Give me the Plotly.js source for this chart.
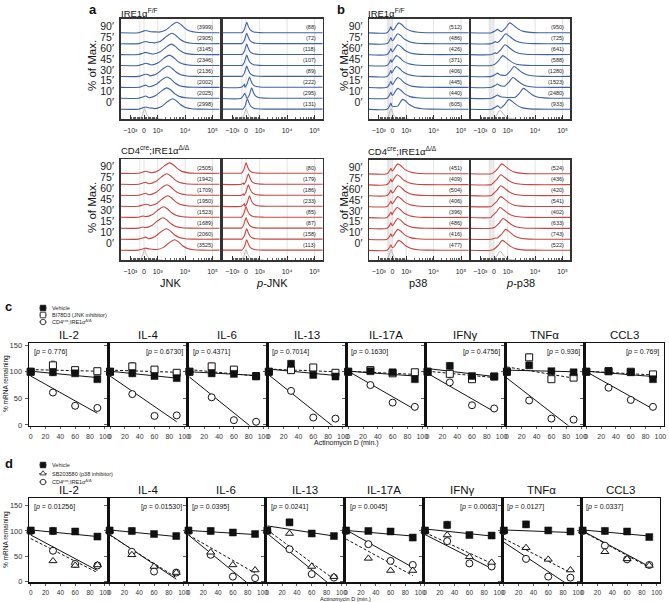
<!DOCTYPE html>
<html>
<head>
<meta charset="utf-8">
<script src="https://cdn.plot.ly/plotly-3.0.1.min.js"></script>
<style>body{margin:0;background:#fff}#chart{width:669px;height:602px}</style>
</head>
<body>
<div id="chart"></div>
<script>
const W = 669, H = 602;
const FONT = 'Liberation Sans, Arial, sans-serif';
const blue = '#3f62a3', red = '#c8463f', grey = '#b4b4b4';

// ---------- a / b : flow histograms (rows listed bottom to top: 0', 10', ... 90') ----------
const timeLabels = ['0′', '10′', '15′', '30′', '45′', '60′', '75′', '90′'];
// peak positions on the biexponential display scale (0 -> 0, 1 -> 10^3, 3 -> 10^4, 5 -> 10^5)
const jnkFFPeak = [2.08, 1.66, 1.66, 1.74, 1.84, 1.99, 2.03, 2.39];
const jnkKOPeak = [2.22, 1.62, 1.37, 1.42, 1.72, 1.66, 1.66, 1.86];
const pjnkFFPeak = [0.11, 0.42, 0.26, 0.06, 0.06, 0.06, 0.06, 0.06];
const pjnkKOPeak = [0.06, 0.06, 0.01, 0.01, 0.26, 0.18, 0.18, 0.01];
const p38FFPeak = [0.75, 0.39, 0.39, 0.29, 0.29, 0.39, 0.39, 0.46];
const p38KOPeak = [0.46, 0.39, 0.39, 0.34, 0.39, 0.42, 0.34, 0.39];
const pp38FFPeak = [1.09, 2.15, 1.37, 1.46, 0.64, 0.80, 0.85, 1.15];
const pp38KOPeak = [0.61, 0.85, 0.66, 0.44, 0.49, 0.49, 0.49, 0.56];
// height of the small population near zero
const jnkFFBump = [0.2, 0.2, 0.2, 0.2, 0.2, 0.2, 0.2, 0.2];
const jnkKOBump = [0.18, 0.18, 0.18, 0.18, 0.18, 0.18, 0.18, 0.18];
const pjnkFFBump = [0, 0.45, 0.3, 0, 0, 0, 0, 0];
const pjnkKOBump = [0, 0, 0, 0, 0.25, 0.2, 0.2, 0];
const p38FFBump = [0.55, 0.55, 0.55, 0.55, 0.55, 0.55, 0.55, 0.55];
const p38KOBump = [0.5, 0.5, 0.5, 0.5, 0.5, 0.5, 0.5, 0.5];
const pp38FFBump = [0.3, 0.3, 0.3, 0.3, 0.3, 0.25, 0.3, 0.3];
const pp38KOBump = [0.1, 0.2, 0.12, 0.1, 0.1, 0.1, 0.1, 0.1];
// median fluorescence values printed in each row
const jnkFFCount = [2998, 2025, 2002, 2136, 2346, 3145, 2905, 3999];
const pjnkFFCount = [131, 295, 222, 89, 107, 118, 72, 88];
const jnkKOCount = [3525, 2060, 1689, 1523, 1950, 1709, 1942, 2505];
const pjnkKOCount = [113, 158, 87, 85, 233, 186, 179, 80];
const p38FFCount = [605, 440, 445, 406, 371, 426, 486, 512];
const pp38FFCount = [933, 2480, 1523, 1280, 588, 641, 725, 950];
const p38KOCount = [477, 416, 486, 396, 406, 504, 409, 451];
const pp38KOCount = [522, 743, 633, 402, 541, 420, 436, 524];
// peak profiles [offset, height]
const spikeShape = [[-0.35,0],[-0.18,0.3],[-0.07,0.75],[0,0.95],[0.1,0.6],[0.25,0.25],[0.5,0.07],[0.9,0.01],[1.3,0]];
const jnkShape = [[-1.3,0.05],[-0.8,0.25],[-0.4,0.65],[0,0.95],[0.3,0.75],[0.6,0.4],[0.95,0.15],[1.4,0.04],[2.0,0]];
const p38Shape = [[-0.35,0.3],[-0.15,0.7],[0,0.9],[0.2,0.75],[0.5,0.4],[0.9,0.15],[1.4,0.04],[2.0,0]];
const pp38Shape = [[-0.6,0.1],[-0.3,0.45],[0,0.9],[0.3,0.65],[0.6,0.35],[1.0,0.12],[1.5,0.03],[2.1,0]];
const ctrlBroad = [[-0.5,0],[-0.25,0.35],[0,0.8],[0.25,0.45],[0.5,0.15],[0.8,0.03],[1.1,0]];
const jnkBump = [[-0.4,0],[-0.1,0.6],[0.12,1],[0.4,0.55],[0.7,0.4],[1.0,0.35]];
const pjnkBump = [[-0.35,0],[-0.18,0.6],[-0.1,1],[-0.02,0.6]];
const p38Bump = [[-0.4,0],[-0.22,0.5],[-0.12,1],[-0.03,0.5]];
const pp38Bump = [[-0.2,0],[0.1,0.6],[0.25,1],[0.4,0.6],[0.55,0.4]];

const histBoxes = [
  {x:[120.5,219.5], y:[18.5,119], peak:jnkFFPeak, bumpH:jnkFFBump, shape:jnkShape, bump:jnkBump, color:blue, count:jnkFFCount, ctrl:0.04, ctrlShape:spikeShape, labels:true},
  {x:[222.5,322.5], y:[18.5,119], peak:pjnkFFPeak, bumpH:pjnkFFBump, shape:spikeShape, bump:pjnkBump, color:blue, count:pjnkFFCount, ctrl:0.01, ctrlShape:spikeShape},
  {x:[120.5,219.5], y:[159,260], peak:jnkKOPeak, bumpH:jnkKOBump, shape:jnkShape, bump:jnkBump, color:red, count:jnkKOCount, ctrl:0.04, ctrlShape:spikeShape, labels:true},
  {x:[222.5,322.5], y:[159,260], peak:pjnkKOPeak, bumpH:pjnkKOBump, shape:spikeShape, bump:pjnkBump, color:red, count:pjnkKOCount, ctrl:0.01, ctrlShape:spikeShape},
  {x:[369,468.5], y:[18.5,119], peak:p38FFPeak, bumpH:p38FFBump, shape:p38Shape, bump:p38Bump, color:blue, count:p38FFCount, ctrl:-0.1, ctrlShape:spikeShape, labels:true, band:true},
  {x:[470.5,570], y:[18.5,119], peak:pp38FFPeak, bumpH:pp38FFBump, shape:pp38Shape, bump:pp38Bump, color:blue, count:pp38FFCount, ctrl:0.44, ctrlShape:ctrlBroad, band:true},
  {x:[369,468.5], y:[159.5,260], peak:p38KOPeak, bumpH:p38KOBump, shape:p38Shape, bump:p38Bump, color:red, count:p38KOCount, ctrl:-0.1, ctrlShape:spikeShape, labels:true, band:true},
  {x:[470.5,570], y:[159.5,260], peak:pp38KOPeak, bumpH:pp38KOBump, shape:pp38Shape, bump:pp38Bump, color:red, count:pp38KOCount, ctrl:0.44, ctrlShape:ctrlBroad, band:true},
];

// ---------- c / d : mRNA decay ----------
const genes = ['IL-2', 'IL-4', 'IL-6', 'IL-13', 'IL-17A', 'IFNγ', 'TNFα', 'CCL3'];
const times = [0, 30, 60, 90];
const fitX = [0, 90];

const cVehicle = [[100,99,97,86],[100,97,92,88],[100,97,96,91],[100,115,94,91],[100,101,99,86],[100,111,92,91],[100,112,101,99],[100,101,99,86]];
const cVehicleErr = [[2,6,4,3],[2,5,4,3],[2,5,3,3],[2,6,4,3],[2,5,4,3],[2,6,3,3],[2,5,3,3],[2,5,4,3]];
const cInhib = [[100,112,103,101],[100,110,104,98],[100,110,104,92],[100,103,108,98],[100,103,97,99],[100,96,86,91],[100,127,86,89],[100,101,100,95]];
const cInhibErr = [[2,8,5,3],[2,7,4,3],[2,6,4,3],[2,5,5,3],[2,4,3,3],[2,5,4,3],[2,6,4,3],[2,4,3,3]];
const cKO = [[100,61,36,32],[100,58,17,18],[100,52,9,6],[100,64,14,12],[100,75,42,34],[100,80,37,31],[100,46,12,10],[100,70,47,34]];
const cFitVehicle = [[101,89],[101,88],[100,93],[105,93],[101,92],[106,91],[103,100],[101,91]];
const cFitInhib = [[104,101],[103,99],[104,92],[105,100],[101,95],[101,89],[109,88],[101,94]];
const cFitKO = [[92,22],[92,6],[90,-11],[94,-6],[101,29],[97,25],[88,-9],[100,30]];
const cP = ['0.776','0.6730','0.4371','0.7014','0.1630','0.4756','0.936','0.769'];
const cPSide = ['l','r','l','l','l','r','r','r'];

const dVehicle = [[101,100,99,89],[101,100,94,90],[101,100,97,94],[101,117,95,90],[101,100,99,87],[101,112,92,91],[101,113,101,99],[101,100,99,88]];
const dVehicleErr = [[3,7,4,3],[3,6,4,3],[3,6,4,3],[3,6,4,3],[3,5,4,3],[3,7,4,3],[3,6,3,3],[3,6,4,3]];
const dInhib = [[100,41,32,33],[100,53,30,18],[100,58,33,23],[100,95,30,10],[100,46,22,22],[100,92,49,38],[100,67,44,23],[100,59,45,32]];
const dKO = [[100,61,35,32],[100,59,20,18],[100,53,10,7],[100,64,15,8],[100,74,41,33],[100,80,36,30],[100,45,10,8],[100,71,44,33]];
const dFitVehicle = [[102,89],[102,89],[101,93],[110,90],[101,90],[104,90],[102,97],[102,90]];
const dFitInhib = [[85,18],[92,8],[92,17],[102,5],[84,12],[97,36],[85,18],[99,28]];
const dFitKO = [[92,22],[93,5],[92,-15],[95,-12],[102,28],[93,26],[78,-9],[100,30]];
const dP = ['0.01256','0.01530','0.0395','0.0241','0.0045','0.0063','0.0127','0.0337'];
const dPSide = ['l','r','l','l','l','r','l','l'];

// ---------- helpers ----------
const px = v => v / W;
const py = v => 1 - v / H;
const xd = r => [px(r[0]), px(r[1])];
const yd = r => [py(r[1]), py(r[0])];
const axKey = (a, n) => n === 1 ? a + 'axis' : a + 'axis' + n;

const traces = [];
const annotations = [];
const shapes = [];
const layout = {
  width: W, height: H,
  margin: {l: 0, r: 0, t: 0, b: 0},
  paper_bgcolor: '#fff', plot_bgcolor: 'rgba(0,0,0,0)',
  showlegend: false,
  font: {family: FONT, color: '#222'},
};

function curve(peak, bumpH, shape, bump) {
  const start = peak + shape[0][0];
  const xs = [-2], ys = [0];
  bump.forEach(([x, h]) => { if (x < start) { xs.push(x); ys.push(h * bumpH); } });
  shape.forEach(([dx, h]) => { xs.push(peak + dx); ys.push(h); });
  xs.push(6); ys.push(0);
  return {xs, ys};
}

const minorVals = [];
for (let i = 1; i < 10; i++) { minorVals.push(i / 10, -i / 10); }
for (let m = 2; m < 10; m++) { minorVals.push(1 + 2 * Math.log10(m), 3 + 2 * Math.log10(m)); }

histBoxes.forEach((b, i) => {
  const n = i + 1;
  const xa = n === 1 ? 'x' : 'x' + n, ya = n === 1 ? 'y' : 'y' + n;
  const widthPx = b.x[1] - b.x[0];
  layout[axKey('x', n)] = {
    domain: xd(b.x), anchor: ya, range: [-23.5 / 13.7, (widthPx - 23.5) / 13.7],
    showline: true, mirror: true, linecolor: '#333', linewidth: 1.5,
    showgrid: false, zeroline: false,
    tickmode: 'array', tickvals: [-1, 0, 1, 3, 5], ticktext: ['−10³', '0', '10³', '10⁴', '10⁵'],
    ticks: 'inside', ticklen: 4, tickwidth: 1, tickcolor: '#333',
    ticklabelstandoff: 4,
    tickfont: {size: 7, color: '#222'},
    minor: {tickmode: 'array', tickvals: minorVals, ticks: 'inside', ticklen: 2.5, tickwidth: 0.8, tickcolor: '#333'},
  };
  layout[axKey('y', n)] = {
    domain: yd(b.y), anchor: xa, range: [0, 9.2],
    showline: true, mirror: true, linecolor: '#333', linewidth: 1.5,
    showgrid: false, zeroline: false, ticks: '',
    tickmode: 'array', tickvals: timeLabels.map((t, k) => 0.9 + k + 0.6), ticktext: timeLabels,
    showticklabels: !!b.labels, ticklabelstandoff: 3,
    tickfont: {size: 10.5, color: '#222'},
  };
  if (b.band) {
    shapes.push({type: 'rect', xref: xa, yref: ya + ' domain', x0: -0.4, x1: 0, y0: 0, y1: 1,
      fillcolor: '#ececec', line: {width: 0}, layer: 'below'});
  }
  [-0.3, 0, 1, 3, 5].forEach(g => shapes.push({type: 'line', xref: xa, yref: ya + ' domain',
    x0: g, x1: g, y0: 0, y1: 1, line: {color: '#dcdcdc', width: 0.8}, layer: 'below'}));
  // isotype control
  const c = curve(b.ctrl, 0, b.ctrlShape, []);
  traces.push({x: c.xs.slice(1, -1), y: c.ys.slice(1, -1), xaxis: xa, yaxis: ya, mode: 'lines',
    line: {color: grey, width: 1, shape: 'spline', smoothing: 0.7}, hoverinfo: 'skip'});
  // time course, top row first so lower rows sit on top
  for (let t = b.peak.length - 1; t >= 0; t--) {
    const base = 0.9 + t;
    const cv = curve(b.peak[t], b.bumpH[t], b.shape, b.bump);
    traces.push({x: cv.xs, y: cv.ys.map(v => base + v), xaxis: xa, yaxis: ya, mode: 'lines',
      line: {color: b.color, width: 1.1, shape: 'spline', smoothing: 0.7}, hoverinfo: 'skip'});
    annotations.push({xref: xa + ' domain', yref: ya, x: 0.955, y: base + 0.48, xanchor: 'right',
      yanchor: 'middle', showarrow: false, text: '(' + b.count[t] + ')', font: {size: 5.5, color: '#222'}});
  }
});

function decayPanel(first, rowY, x0, boxW, yRange, xRange, vehicle, vehErr, inhib, inhibErr, ko, fitV, fitI, fitK, pv, pside, inhibSymbol, tickSize) {
  genes.forEach((g, k) => {
    const n = first + k;
    const xa = 'x' + n, ya = 'y' + n;
    const xr = [x0 + k * boxW, x0 + (k + 1) * boxW];
    layout[axKey('x', n)] = {
      domain: xd(xr), anchor: ya, range: xRange,
      showline: true, mirror: true, linecolor: '#111', linewidth: 1.4,
      showgrid: false, zeroline: false,
      tickmode: 'array', tickvals: [0, 20, 40, 60, 80, 100],
      ticks: 'outside', ticklen: 2.5, tickwidth: 0.8, tickcolor: '#333',
      tickfont: {size: tickSize, color: '#333'}, ticklabelstandoff: 1,
    };
    layout[axKey('y', n)] = {
      domain: yd(rowY), anchor: xa, range: yRange,
      showline: true, mirror: true, linecolor: '#111', linewidth: 1.4,
      showgrid: false, zeroline: false,
      tickmode: 'array', tickvals: [0, 50, 100, 150],
      ticks: 'outside', ticklen: 3, tickwidth: 0.8, tickcolor: '#333',
      showticklabels: k === 0, tickfont: {size: 7.5, color: '#333'}, ticklabelstandoff: 1,
    };
    const lineStyle = {color: '#111', width: 1};
    traces.push({x: fitX, y: fitK[k], xaxis: xa, yaxis: ya, mode: 'lines', line: lineStyle, hoverinfo: 'skip'});
    traces.push({x: fitX, y: fitI[k], xaxis: xa, yaxis: ya, mode: 'lines', line: {color: '#111', width: 1, dash: '3px,2px'}, hoverinfo: 'skip'});
    traces.push({x: fitX, y: fitV[k], xaxis: xa, yaxis: ya, mode: 'lines', line: lineStyle, hoverinfo: 'skip'});
    traces.push({x: times, y: ko[k], xaxis: xa, yaxis: ya, mode: 'markers', cliponaxis: false,
      marker: {symbol: 'circle', size: 7, color: '#fff', line: {color: '#111', width: 1}}, hoverinfo: 'skip'});
    traces.push({x: times, y: inhib[k], xaxis: xa, yaxis: ya, mode: 'markers', cliponaxis: false,
      error_y: inhibErr ? {type: 'data', array: inhibErr[k], color: '#666', thickness: 1, width: 2} : undefined,
      marker: {symbol: inhibSymbol, size: 7, color: '#fff', line: {color: '#111', width: 1}}, hoverinfo: 'skip'});
    traces.push({x: times, y: vehicle[k], xaxis: xa, yaxis: ya, mode: 'markers', cliponaxis: false,
      error_y: {type: 'data', array: vehErr[k], color: '#666', thickness: 1, width: 2},
      marker: {symbol: 'square', size: 7, color: '#111', line: {color: '#111', width: 0.5}}, hoverinfo: 'skip'});
    annotations.push({xref: 'paper', yref: 'paper', x: px((xr[0] + xr[1]) / 2), y: py(rowY[0] - 8),
      xanchor: 'center', yanchor: 'middle', showarrow: false, text: g, font: {size: 11.5, color: '#111'}});
    const left = pside[k] === 'l';
    annotations.push({xref: 'paper', yref: 'paper', x: px(left ? xr[0] + 3 : xr[1] - 3), y: py(rowY[0] + 9),
      xanchor: left ? 'left' : 'right', yanchor: 'middle', showarrow: false,
      text: '[<i>p</i> = ' + pv[k] + ']', font: {size: 7, color: '#111'}});
  });
}

decayPanel(9, [343, 425.5], 29, 79.375, [-1, 154], [-2.3, 104.9], cVehicle, cVehicleErr, cInhib, cInhibErr, cKO,
  cFitVehicle, cFitInhib, cFitKO, cP, cPSide, 'square', 7);
decayPanel(17, [498, 582.3], 29.3, 78.84, [-1.2, 165], [-2, 104.5], dVehicle, dVehicleErr, dInhib, null, dKO,
  dFitVehicle, dFitInhib, dFitKO, dP, dPSide, 'triangle-up', 6.5);

// legend overlay in pixel space
layout.xaxis25 = {domain: [0, 1], anchor: 'y25', range: [0, W], visible: false, fixedrange: true};
layout.yaxis25 = {domain: [0, 1], anchor: 'x25', range: [H, 0], visible: false, fixedrange: true};
const legendRows = [
  {y: 308, sym: 'square', fill: '#111', text: 'Vehicle'},
  {y: 315, sym: 'square', fill: '#fff', text: 'BI78D3 (JNK inhibitor)'},
  {y: 322, sym: 'circle', fill: '#fff', text: 'CD4<sup>cre</sup>;IRE1α<sup>Δ/Δ</sup>'},
  {y: 465, sym: 'square', fill: '#111', text: 'Vehicle'},
  {y: 473.5, sym: 'triangle-up', fill: '#fff', text: 'SB203580 (p38 inhibitor)'},
  {y: 482, sym: 'circle', fill: '#fff', text: 'CD4<sup>cre</sup>;IRE1α<sup>Δ/Δ</sup>'},
];
legendRows.forEach(r => {
  traces.push({x: [39, 47], y: [r.y, r.y], xaxis: 'x25', yaxis: 'y25', mode: 'lines', line: {color: '#555', width: 0.8}, hoverinfo: 'skip'});
  traces.push({x: [43], y: [r.y], xaxis: 'x25', yaxis: 'y25', mode: 'markers', cliponaxis: false,
    marker: {symbol: r.sym, size: 5.5, color: r.fill, line: {color: '#111', width: 0.8}}, hoverinfo: 'skip'});
  annotations.push({xref: 'paper', yref: 'paper', x: px(50), y: py(r.y), xanchor: 'left', yanchor: 'middle',
    showarrow: false, text: r.text, font: {size: 5.5, color: '#222'}});
});

// text labels
const txt = (x, y, text, size, extra) => annotations.push(Object.assign({xref: 'paper', yref: 'paper',
  x: px(x), y: py(y), showarrow: false, text, xanchor: 'left', yanchor: 'middle', font: {size, color: '#111'}}, extra || {}));
txt(87, 10, '<b>a</b>', 13);
txt(335, 9, '<b>b</b>', 13);
txt(3, 306, '<b>c</b>', 13);
txt(3, 463, '<b>d</b>', 13);
txt(119, 13, 'IRE1α<sup>F/F</sup>', 9.5);
txt(366, 13, 'IRE1α<sup>F/F</sup>', 9.5);
txt(119, 150, 'CD4<sup>cre</sup>;IRE1α<sup>Δ/Δ</sup>', 9.5);
txt(366, 151, 'CD4<sup>cre</sup>;IRE1α<sup>Δ/Δ</sup>', 9.5);
[[92, 66], [92, 208], [344, 66], [344, 208]].forEach(p =>
  txt(p[0], p[1], '% of Max.', 11.5, {xanchor: 'center', textangle: -90}));
txt(170, 283, 'JNK', 11, {xanchor: 'center'});
txt(272, 283, '<i>p</i>-JNK', 11, {xanchor: 'center'});
txt(418, 283, 'p38', 11, {xanchor: 'center'});
txt(520, 283, '<i>p</i>-p38', 11, {xanchor: 'center'});
txt(6, 384, '% mRNA remaining', 6.5, {xanchor: 'center', textangle: -90});
txt(6, 540, '% mRNA remaining', 6.5, {xanchor: 'center', textangle: -90});
txt(346, 443, 'Actinomycin D (min.)', 7, {xanchor: 'center'});
txt(345, 599, 'Actinomycin D (min.)', 5.5, {xanchor: 'center'});

layout.annotations = annotations;
layout.shapes = shapes;

Plotly.newPlot('chart', traces, layout, {staticPlot: true});
</script>
</body>
</html>
